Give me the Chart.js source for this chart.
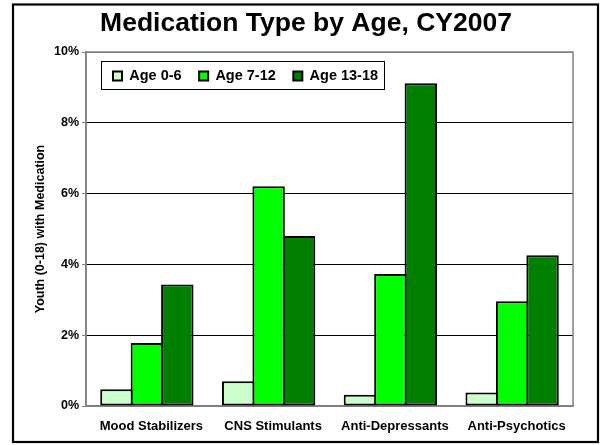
<!DOCTYPE html>
<html>
<head>
<meta charset="utf-8">
<script src="https://cdn.jsdelivr.net/npm/chart.js@4"></script>
<style>
  html, body { margin: 0; padding: 0; background: #fff; }
  canvas { display: block; }
</style>
</head>
<body>
<canvas id="c" width="600" height="445"></canvas>
<script>
const chartTitle = 'Medication Type by Age, CY2007';
const yAxisTitle = 'Youth (0-18) with Medication';
const categories = ['Mood Stabilizers', 'CNS Stimulants', 'Anti-Depressants', 'Anti-Psychotics'];
const seriesNames = ['Age 0-6', 'Age 7-12', 'Age 13-18'];
const age0to6 = [0.47, 0.70, 0.32, 0.38];
const age7to12 = [1.78, 6.21, 3.73, 2.96];
const age13to18 = [3.43, 4.80, 9.12, 4.26];
const yTicks = [0, 2, 4, 6, 8, 10];

const FONT = '"Liberation Sans", Arial, sans-serif';
const PLOT_TOP = 52;

const framePlugin = {
  id: 'frame',
  beforeDraw(chart) {
    const ctx = chart.ctx;
    ctx.save();
    ctx.fillStyle = '#fff';
    ctx.fillRect(0, 0, chart.width, chart.height);
    ctx.restore();
  },
  afterLayout(chart) {
    const lg = chart.legend;
    if (!lg) return;
    const w = lg.right - lg.left, h = lg.bottom - lg.top;
    lg.left = 95.5; lg.top = 51.25;
    lg.right = lg.left + w; lg.bottom = lg.top + h;
  },
  beforeDatasetsDraw(chart) {
    const {ctx, chartArea: a} = chart;
    ctx.save();
    ctx.strokeStyle = '#808080';
    ctx.lineWidth = 1.5;
    ctx.strokeRect(a.left, a.top, a.right - a.left, a.bottom - a.top);
    ctx.restore();
  },
  afterDraw(chart) {
    const ctx = chart.ctx;
    ctx.save();
    const hb = chart.legend.legendHitBoxes;
    if (hb && hb.length) {
      const last = hb[hb.length - 1];
      const cy = hb[0].top + hb[0].height / 2;
      const l = hb[0].left - 12.3, r = last.left + last.width + 6;
      ctx.strokeStyle = '#000';
      ctx.lineWidth = 1;
      ctx.strokeRect(Math.round(l) + 0.5, Math.round(cy - 15) + 0.5, Math.round(r - l), 28);
    }
    ctx.fillStyle = '#000';
    ctx.font = 'bold 26.5px ' + FONT;
    ctx.textAlign = 'center';
    ctx.textBaseline = 'alphabetic';
    ctx.fillText(chartTitle, 306, 31);
    ctx.strokeStyle = '#000';
    ctx.lineWidth = 2.2;
    ctx.strokeRect(13, 4.5, 585, 437.5);
    ctx.restore();
  }
};

const colors = ['#CCFFCC', '#00FF00', '#008000'];
const seriesData = [age0to6, age7to12, age13to18];

// legend height (horizontal, one row) = itemHeight + padding + 10
const LEG_FONT = 14.5, LEG_PAD = 17.5;
const legendHeight = Math.max(LEG_FONT, 9) + LEG_PAD + 10;

new Chart(document.getElementById('c'), {
  type: 'bar',
  data: {
    labels: categories,
    datasets: seriesNames.map((name, i) => ({
      label: name,
      data: seriesData[i],
      backgroundColor: colors[i],
      borderColor: '#000',
      borderWidth: 2,
      borderSkipped: false
    }))
  },
  options: {
    responsive: false,
    animation: false,
    events: [],
    layout: { padding: { left: 14, right: 27, top: PLOT_TOP - legendHeight, bottom: 0 } },
    datasets: { bar: { categoryPercentage: 0.75, barPercentage: 1.066 } },
    plugins: {
      title: { display: false },
      tooltip: { enabled: false },
      legend: {
        position: 'top',
        align: 'start',
        fullSize: false,
        labels: {
          boxWidth: 9,
          boxHeight: 9,
          padding: LEG_PAD,
          color: '#000',
          font: { family: FONT, size: LEG_FONT, weight: 'bold' }
        }
      }
    },
    scales: {
      x: {
        grid: { display: false, drawTicks: false },
        border: { display: true, color: '#808080', width: 1.5 },
        ticks: {
          color: '#000',
          padding: 13,
          labelOffset: 4.5,
          maxRotation: 0,
          autoSkip: false,
          font: { family: FONT, size: 13, weight: 'bold' }
        },
        afterFit(s) { s.height = 39; }
      },
      y: {
        min: 0,
        max: 10,
        afterBuildTicks(s) { s.ticks = yTicks.map(v => ({ value: v })); },
        grid: {
          color: (c) => (c.tick && (c.tick.value === 0 || c.tick.value === 10)) ? '#808080' : '#000',
          lineWidth: 1,
          tickColor: '#808080',
          tickLength: 4,
          drawTicks: true
        },
        border: { display: true, color: '#808080', width: 1.5 },
        ticks: {
          color: '#000',
          padding: 3,
          font: { family: FONT, size: 12.5, weight: 'bold' },
          callback: (v) => v + '%'
        },
        title: {
          display: true,
          text: yAxisTitle,
          color: '#000',
          padding: { top: 19.5, bottom: 0 },
          font: { family: FONT, size: 12.5, weight: 'bold' }
        },
        afterFit(s) { s.width = 72; }
      }
    }
  },
  plugins: [framePlugin]
});
</script>
</body>
</html>
